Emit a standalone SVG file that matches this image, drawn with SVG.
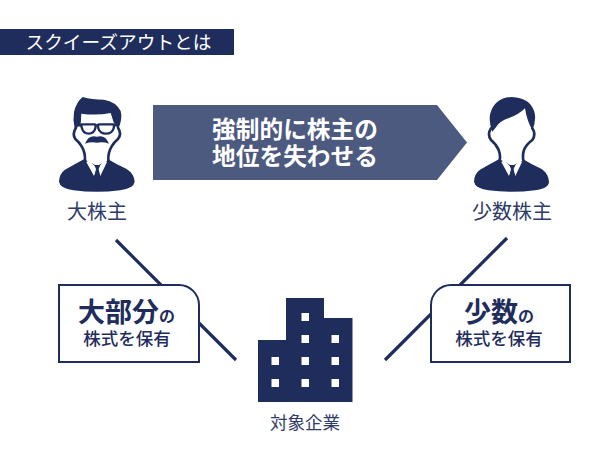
<svg xmlns="http://www.w3.org/2000/svg" width="610" height="460" viewBox="0 0 610 460">
<style>
text{font-family:"Noto Sans CJK JP","Noto Sans",sans-serif}
.n{fill:#1f2d5c}
.w{fill:#fff}
.o{fill:none;stroke:#1f2d5c;stroke-width:8;stroke-linecap:round}
.lab{fill:#2f3b68;font-size:20px;text-anchor:middle;font-weight:400}
.box{fill:#fff;stroke:#1f2d5c;stroke-width:2}
.big{fill:#1f2d5c;font-size:27px;font-weight:700}
.no{fill:#1f2d5c;font-size:16px;font-weight:700}
.sm{fill:#1f2d5c;font-size:17.500px;font-weight:500;text-anchor:middle}
.ar{fill:#fff;font-size:23.700px;font-weight:700;text-anchor:middle}
</style>
<rect width="610" height="460" fill="#fff"/>
<g id="connectors" stroke="#1f2d5c" stroke-width="3.2" fill="none">
<line x1="116" y1="240" x2="236" y2="360"/>
<line x1="507" y1="238" x2="385" y2="360"/>
</g>
<g id="title">
<rect class="n" x="0" y="29" width="234" height="26"/>
<text x="25.500" y="48.500" fill="#fff" font-size="18.700" font-weight="400">スクイーズアウトとは</text>
</g>
<g id="arrow">
<polygon fill="#4d5a80" points="153,105 437,105 467,142.5 437,180 153,180"/>
<text class="ar" x="295" y="137.500">強制的に株主の</text>
<text class="ar" x="295" y="164.500">地位を失わせる</text>
</g>
<g id="major-holder">
<g transform="translate(40,85) scale(0.3333)">
<path class="n" d="M128 36Q108 52 102 82Q98 105 104 130L122 120L124 86Q170 92 212 84L222 115L236 130Q248 100 242 78Q228 50 192 44Q155 44 128 36Z"/>
<path class="o" d="M108 128Q96 146 106 162Q118 172 125 184Q136 202 135 226M234 128Q246 146 234 162Q222 172 215 184Q204 202 205 226"/>
<path class="n" d="M133 222Q100 240 75 254Q58 266 57 290Q60 310 100 316Q170 325 240 316Q282 310 284 290Q282 266 260 252Q230 238 207 224Q170 250 133 222Z"/>
<path class="w" d="M139 231L162 273L171 250L148 226ZM201 231L181 273L172 250L194 226Z"/>
<path class="w" d="M146 215H196V228L171 244L146 228Z"/>
<path class="n" d="M163 240H181L176 252L181 277H163L168 252Z"/>
<path d="M125 118H165Q168 118 166 130Q162 146 146 146Q130 146 126 130Q122 118 125 118ZM176 118H220Q223 118 221 130Q216 146 198 146Q180 146 175 130Q173 118 176 118Z" fill="none" stroke="#1f2d5c" stroke-width="7"/>
<path d="M108 121H125M165 121H176M220 121H236" stroke="#1f2d5c" stroke-width="7"/>
<path class="n" d="M135 176Q146 148 171 155Q196 148 207 176Q190 170 171 173Q152 170 135 176Z"/>
</g>
<text class="lab" x="97" y="218.500">大株主</text>
</g>
<g id="minor-holder">
<g transform="translate(455,85) scale(0.3333)">
<path class="n" d="M170 36Q120 38 106 85Q100 110 112 140L124 125Q135 108 160 100Q190 90 210 70Q215 105 232 136Q245 105 238 80Q225 38 170 36Z"/>
<path class="o" d="M108 130Q96 148 108 165Q124 178 131 195Q137 210 134 226M232 130Q244 148 232 165Q214 178 207 195Q202 210 205 226"/>
<path class="n" d="M133 222Q100 240 75 254Q58 266 57 290Q60 310 100 316Q170 325 240 316Q282 310 282 290Q280 266 260 252Q230 238 207 224Q170 250 133 222Z"/>
<path class="w" d="M139 231L162 273L171 250L148 226ZM201 231L181 273L172 250L194 226Z"/>
<path class="w" d="M146 215H196V228L171 244L146 228Z"/>
<path class="n" d="M163 240H181L176 252L181 277H163L168 252Z"/>
</g>
<text class="lab" x="512" y="218.500">少数株主</text>
</g>
<g id="major-box">
<path class="box" d="M59 285H179A20 20 0 0 1 199 305V362H59Z"/>
<text x="78" y="322"><tspan class="big">大部分</tspan><tspan class="no">の</tspan></text>
<text class="sm" x="127" y="345">株式を保有</text>
</g>
<g id="minor-box">
<path class="box" d="M451 285H570V362H431V305A20 20 0 0 1 451 285Z"/>
<text x="464" y="322"><tspan class="big">少数</tspan><tspan class="no">の</tspan></text>
<text class="sm" x="499" y="345">株式を保有</text>
</g>
<g id="company">
<path class="n" d="M258 402V340H286V298H324V318H352.500V402Z"/>
<g class="w">
<rect x="301.500" y="313" width="7.500" height="8"/>
<rect x="301.500" y="335" width="7.500" height="8"/>
<rect x="331.500" y="335" width="7.500" height="8"/>
<rect x="271.500" y="357" width="7.500" height="8"/>
<rect x="301.500" y="357" width="7.500" height="8"/>
<rect x="331.500" y="357" width="7.500" height="8"/>
<rect x="271.500" y="379" width="7.500" height="8"/>
<rect x="301.500" y="379" width="7.500" height="8"/>
<rect x="331.500" y="379" width="7.500" height="8"/>
</g>
<text class="lab" x="305" y="429" style="font-size:17.500px">対象企業</text>
</g>
</svg>
